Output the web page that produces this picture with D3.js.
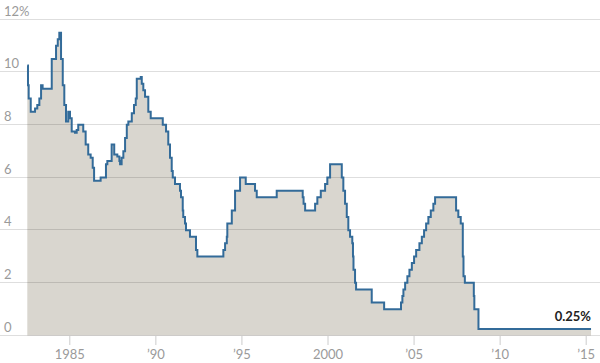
<!DOCTYPE html>
<html>
<head>
<meta charset="utf-8">
<script src="https://cdn.jsdelivr.net/npm/d3@7"></script>
<style>
    body { margin: 0; background: #fff; }
    svg { display: block; font-family: Lato, "Open Sans", sans-serif; }
</style>
</head>
<body>
<div id="rateChart"><svg></svg></div>
<script>
/** Chart data **/
// Decimal year of each change in the target rate.
var changeYears = [
    1982.56, 1982.60, 1982.64, 1982.76, 1983.01, 1983.14, 1983.26, 1983.36, 1983.45,
    1983.98, 1984.23, 1984.33, 1984.42, 1984.52, 1984.62, 1984.71, 1984.81, 1984.94,
    1985.04, 1985.14, 1985.33, 1985.43, 1985.52, 1985.81, 1985.95, 1986.10, 1986.24,
    1986.36, 1986.44, 1986.82, 1987.13, 1987.21, 1987.46, 1987.61, 1987.79, 1987.91,
    1987.95, 1988.04, 1988.14, 1988.24, 1988.34, 1988.43, 1988.63, 1988.76, 1988.86,
    1988.92, 1989.15, 1989.21, 1989.30, 1989.40, 1989.59, 1989.73, 1990.43, 1990.62,
    1990.75, 1990.85, 1990.95, 1991.01, 1991.14, 1991.43, 1991.49, 1991.59, 1991.62,
    1991.72, 1991.78, 1992.01, 1992.36, 1992.44, 1993.95, 1994.05, 1994.15, 1994.18,
    1994.44, 1994.63, 1994.92, 1995.25, 1995.79, 1995.89, 1997.05, 1998.56, 1998.61,
    1998.70, 1999.28, 1999.41, 1999.61, 1999.86, 1999.99, 2000.15, 2000.83, 2000.92,
    2001.02, 2001.12, 2001.21, 2001.31, 2001.44, 2001.48, 2001.51, 2001.60, 2001.66,
    2002.57, 2003.29, 2004.27, 2004.35, 2004.41, 2004.51, 2004.64, 2004.76, 2004.90,
    2005.03, 2005.15, 2005.34, 2005.48, 2005.61, 2005.73, 2005.86, 2006.00, 2006.15,
    2006.25, 2007.47, 2007.60, 2007.74, 2007.86, 2007.90, 2007.98, 2008.50, 2008.53,
    2008.77, 2015.31
];

// Target rate (%) from that date on.
var targetRates = [
    10.25, 9.5, 9.0, 8.5, 8.625, 8.75, 9.0, 9.5, 9.375,
    10.5, 11.0, 11.25, 11.5, 10.5, 9.5, 8.75, 8.125, 8.5,
    8.25, 7.75, 7.7, 7.8, 8.0, 7.75, 7.25, 6.875, 6.75,
    6.375, 5.875, 6.0, 6.5, 6.625, 7.25, 6.875, 6.8, 6.625,
    6.5, 6.75, 7.0, 7.5, 8.0, 8.125, 8.4375, 8.75, 9.0,
    9.75, 9.8125, 9.5625, 9.3125, 9.0625, 8.5, 8.25, 8.0, 7.75,
    7.25, 6.75, 6.25, 6.0, 5.75, 5.5, 5.25, 4.75, 4.5,
    4.25, 4.0, 3.75, 3.25, 3.0, 3.25, 3.5, 3.75, 4.25,
    4.75, 5.5, 6.0, 5.75, 5.5, 5.25, 5.5, 5.25, 5.0,
    4.75, 5.0, 5.25, 5.5, 5.75, 6.0, 6.5, 6.0, 5.5,
    5.0, 4.5, 4.0, 3.75, 3.5, 3.0, 2.5, 2.0, 1.75,
    1.25, 1.0, 1.25, 1.5, 1.75, 2.0, 2.25, 2.5, 2.75,
    3.0, 3.25, 3.5, 3.75, 4.0, 4.25, 4.5, 4.75, 5.0,
    5.25, 4.75, 4.5, 4.25, 3.0, 2.25, 2.0, 1.5, 1.0,
    0.25, 0.25
];

var yTicks = [0, 2, 4, 6, 8, 10, 12];
var yTickLabels = ["0", "2", "4", "6", "8", "10", "12%"];

var xTicks = [1985, 1990, 1995, 2000, 2005, 2010, 2015];
var xTickLabels = ["1985", "\u201990", "\u201995", "2000", "\u201905", "\u201910", "\u201915"];

var lastLabel = "0.25%";


/**
 * Draw the whole chart.
 */
function drawChart()
{
    var graphName = "rateChart";
    var mod_width = 600;
    var mod_height = 363;

    var color_fill  = '#d9d6cf';
    var color_line  = '#336b99';
    var color_text  = '#9a9a9a';

    var svg = d3.select("#" + graphName).select("svg")
        .attr("width", mod_width)
        .attr("height", mod_height);

    var data = changeYears.map(function(yr, i) {
        return { year: yr, rate: targetRates[i] };
    });

    var xScale = d3.scaleLinear()
        .domain([1985, 2015])
        .range([69.3, 585.7]);

    var yScale = d3.scaleLinear()
        .domain([0, 12])
        .range([335.5, 19.5]);

    // Shaded area under the rate.
    var area = d3.area()
        .curve(d3.curveStepAfter)
        .x(function(d) { return xScale(d.year); })
        .y0(yScale(0))
        .y1(function(d) { return yScale(d.rate); });

    svg.append("path")
        .datum(data)
        .attr("d", area)
        .style("fill", color_fill);

    // Gridlines on top of the fill, so they darken inside it.
    svg.append("g")
        .selectAll("line")
        .data(yTicks)
        .enter()
        .append("line")
        .attr("x1", 0)
        .attr("x2", mod_width)
        .attr("y1", function(d) { return Math.round(yScale(d)) - 0.5; })
        .attr("y2", function(d) { return Math.round(yScale(d)) - 0.5; })
        .style("stroke", "#000")
        .style("stroke-opacity", 0.13)
        .style("stroke-width", 1);

    svg.append("g")
        .selectAll("text")
        .data(yTicks)
        .enter()
        .append("text")
        .attr("x", 4)
        .attr("y", function(d) { return yScale(d) - 4; })
        .style("font-size", "13px")
        .style("fill", color_text)
        .text(function(d, i) { return yTickLabels[i]; });

    // Rate line.
    var line = d3.line()
        .curve(d3.curveStepAfter)
        .x(function(d) { return xScale(d.year); })
        .y(function(d) { return yScale(d.rate); });

    svg.append("path")
        .datum(data)
        .attr("d", line)
        .style("fill", "none")
        .style("stroke", color_line)
        .style("stroke-width", 2)
        .style("stroke-linejoin", "miter");

    // X axis: ticks and year labels.
    var xAxis = d3.axisBottom(xScale)
        .tickValues(xTicks)
        .tickSize(9)
        .tickPadding(5)
        .tickFormat(function(d, i) { return xTickLabels[i]; });

    var xAxisG = svg.append("g")
        .attr("transform", "translate(0," + 336 + ")")
        .call(xAxis);

    xAxisG.select(".domain").remove();
    xAxisG.selectAll(".tick line")
        .style("stroke", "#cccccc");
    xAxisG.selectAll(".tick text")
        .style("font-family", "Lato, sans-serif")
        .style("font-size", "13px")
        .style("fill", color_text);

    // Label for the latest value.
    var last = data[data.length - 1];
    svg.append("text")
        .attr("x", xScale(last.year))
        .attr("y", yScale(last.rate) - 8)
        .attr("text-anchor", "end")
        .style("font-size", "13px")
        .style("font-weight", "bold")
        .style("fill", "#222")
        .text(lastLabel);
}

drawChart();
</script>
</body>
</html>
